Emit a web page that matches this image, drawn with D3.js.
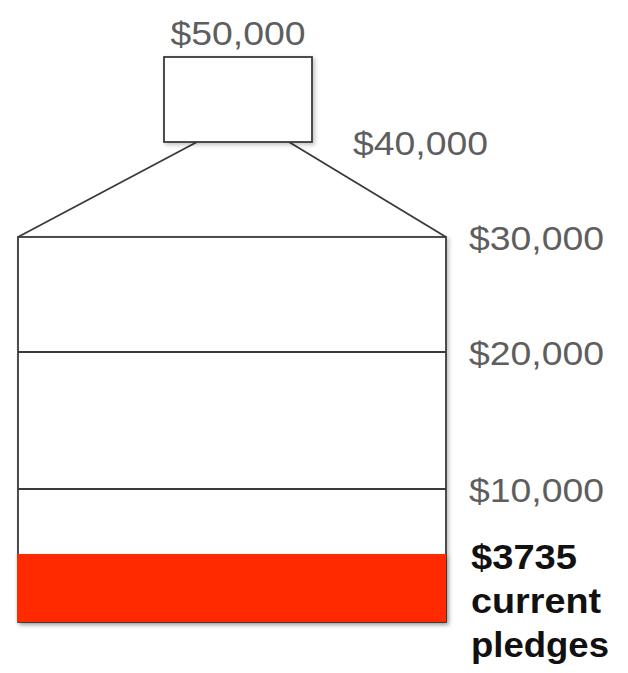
<!DOCTYPE html>
<html>
<head>
<meta charset="utf-8">
<script src="https://cdn.jsdelivr.net/npm/d3@7"></script>
<style>
	html, body { margin: 0; padding: 0; background: #fff; }
	svg { display: block; }
</style>
</head>
<body>
<div id="chart"></div>
<script>
// Data
const tierValues = [10000, 20000, 30000, 40000, 50000];
const tierLabels = ['$10,000', '$20,000', '$30,000', '$40,000', '$50,000'];
const pledged = 3735;
const pledgeLabel = ['$3735', 'current', 'pledges'];

// Attribute
const width = 628;
const height = 673;
const lineColor = '#3a3a3a';
const fillColor = '#ff2a00';
const bodyX = [18, 446];
const neckX = [164, 312];
const shoulderTopX = [197, 289];

// the drawing is not to scale, so the value scale is piecewise
const y = d3
	.scaleLinear()
	.domain([0, pledged, 10000, 20000, 30000, 40000, 50000])
	.range([622, 554, 489, 352, 237, 142, 57]);

const svg = d3.select('#chart').append('svg');
svg.attr('width', width).attr('height', height).attr('viewBox', [0, 0, width, height]);

const defs = svg.append('defs');
const shadow = defs.append('filter').attr('id', 'shadow')
	.attr('x', '-5%').attr('y', '-5%').attr('width', '115%').attr('height', '115%');
shadow.append('feDropShadow')
	.attr('dx', 2).attr('dy', 2).attr('stdDeviation', 2)
	.attr('flood-color', '#000').attr('flood-opacity', 0.25);

const g = svg.append('g')
	.attr('fill', 'none')
	.attr('stroke', lineColor)
	.attr('stroke-width', 1.8);

// body of the bottle
g.append('rect')
	.attr('x', bodyX[0])
	.attr('y', y(30000))
	.attr('width', bodyX[1] - bodyX[0])
	.attr('height', y(0) - y(30000))
	.attr('fill', '#fff')
	.attr('filter', 'url(#shadow)');

// current pledges
g.append('rect')
	.attr('x', bodyX[0] - 1)
	.attr('y', y(pledged))
	.attr('width', bodyX[1] - bodyX[0] + 1)
	.attr('height', y(0) - y(pledged))
	.attr('fill', fillColor)
	.attr('stroke', 'none')
	.attr('filter', 'url(#shadow)');

// tier lines inside the body
g.selectAll('line.tier')
	.data(tierValues.filter((d) => d < 30000))
	.join('line')
	.attr('class', 'tier')
	.attr('x1', bodyX[0])
	.attr('x2', bodyX[1])
	.attr('y1', (d) => y(d))
	.attr('y2', (d) => y(d));

// shoulders
g.selectAll('line.shoulder')
	.data([[bodyX[0], shoulderTopX[0]], [bodyX[1], shoulderTopX[1]]])
	.join('line')
	.attr('class', 'shoulder')
	.attr('x1', (d) => d[0])
	.attr('y1', y(30000))
	.attr('x2', (d) => d[1])
	.attr('y2', y(40000));

// neck
g.append('rect')
	.attr('x', neckX[0])
	.attr('y', y(50000))
	.attr('width', neckX[1] - neckX[0])
	.attr('height', y(40000) - y(50000))
	.attr('fill', '#fff')
	.attr('filter', 'url(#shadow)');

// labels
const labels = svg.append('g')
	.attr('font-family', '"Liberation Sans", Arial, Helvetica, sans-serif')
	.attr('font-size', 34)
	.attr('fill', '#5e5e5e');

labels.selectAll('text')
	.data(tierValues)
	.join('text')
	.attr('x', (d) => (d === 50000 ? (neckX[0] + neckX[1]) / 2 : d === 40000 ? 353 : 469))
	.attr('y', (d) => (d === 50000 ? y(d) - 12 : y(d) + 13))
	.attr('text-anchor', (d) => (d === 50000 ? 'middle' : 'start'))
	.attr('textLength', 135)
	.attr('lengthAdjust', 'spacingAndGlyphs')
	.text((d, i) => tierLabels[i]);

const pl = svg.append('text')
	.attr('font-family', '"Liberation Sans", Arial, Helvetica, sans-serif')
	.attr('font-size', 35)
	.attr('font-weight', 'bold')
	.attr('fill', '#111');
const plWidths = [106, 130, 138];
pl.selectAll('tspan')
	.data(pledgeLabel)
	.join('tspan')
	.attr('x', 471)
	.attr('y', (d, i) => 569 + i * 44)
	.attr('textLength', (d, i) => plWidths[i])
	.attr('lengthAdjust', 'spacingAndGlyphs')
	.text((d) => d);
</script>
</body>
</html>
